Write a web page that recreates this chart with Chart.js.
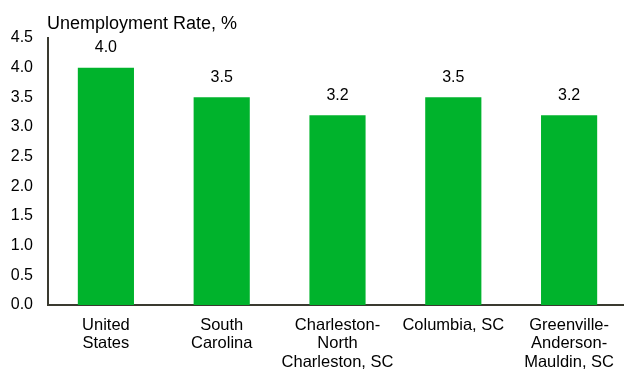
<!DOCTYPE html>
<html>
<head>
<meta charset="utf-8">
<script src="https://cdn.jsdelivr.net/npm/chart.js@4/dist/chart.umd.min.js"></script>
<style>
html,body{margin:0;padding:0;background:#fff;overflow:hidden;}
#wrap{width:624px;height:371px;overflow:hidden;position:relative;}
</style>
</head>
<body>
<div id="wrap"><canvas id="c" width="627" height="371"></canvas></div>
<script>
const categories = [["United","States"],["South","Carolina"],["Charleston-","North","Charleston, SC"],["Columbia, SC"],["Greenville-","Anderson-","Mauldin, SC"]];
const rates = [4.0, 3.5, 3.2, 3.5, 3.2];
const yTicks = [0.0,0.5,1.0,1.5,2.0,2.5,3.0,3.5,4.0,4.5];
const titleText = "Unemployment Rate, %";

const FONT = "'Liberation Sans', Arial, sans-serif";

const labelPlugin = {
  id: 'valueLabels',
  afterDatasetsDraw(chart) {
    const ctx = chart.ctx;
    const meta = chart.getDatasetMeta(0);
    ctx.save();
    ctx.font = "16px " + FONT;
    ctx.fillStyle = "#000";
    ctx.textAlign = "center";
    ctx.textBaseline = "middle";
    meta.data.forEach((bar, i) => {
      ctx.fillText(rates[i].toFixed(1), bar.x, bar.y - 20);
    });
    ctx.restore();
  }
};

const titlePlugin = {
  id: 'leftTitle',
  afterDraw(chart) {
    const ctx = chart.ctx;
    ctx.save();
    ctx.font = "18px " + FONT;
    ctx.fillStyle = "#000";
    ctx.textAlign = "left";
    ctx.textBaseline = "alphabetic";
    ctx.fillText(titleText, chart.chartArea.left - 1, 29);
    ctx.restore();
  }
};

new Chart(document.getElementById('c'), {
  type: 'bar',
  data: {
    labels: categories,
    datasets: [{
      data: rates,
      backgroundColor: '#00B32C',
      borderWidth: 0,
      barPercentage: 0.485,
      categoryPercentage: 1.0
    }]
  },
  options: {
    responsive: false,
    animation: false,
    layout: { padding: { top: 38, right: 0, left: 0, bottom: 0 } },
    plugins: { legend: { display: false }, tooltip: { enabled: false }, title: { display: false } },
    scales: {
      x: {
        afterFit(scale) { scale.height = 66; },
        grid: { display: false, drawTicks: false },
        border: { display: true, color: '#3a3a30', width: 2 },
        ticks: { color: '#000', font: { size: 16.5, family: FONT, lineHeight: 1.12 }, padding: 11, maxRotation: 0, autoSkip: false }
      },
      y: {
        min: 0, max: 4.5,
        afterFit(scale) { scale.width = 48; },
        afterBuildTicks(axis) { axis.ticks = yTicks.map(v => ({ value: v })); },
        grid: { display: false, drawTicks: false },
        border: { display: true, color: '#3a3a30', width: 2 },
        ticks: { color: '#000', font: { size: 16, family: FONT }, padding: 15, callback: v => Number(v).toFixed(1) }
      }
    }
  },
  plugins: [labelPlugin, titlePlugin]
});
</script>
</body>
</html>
